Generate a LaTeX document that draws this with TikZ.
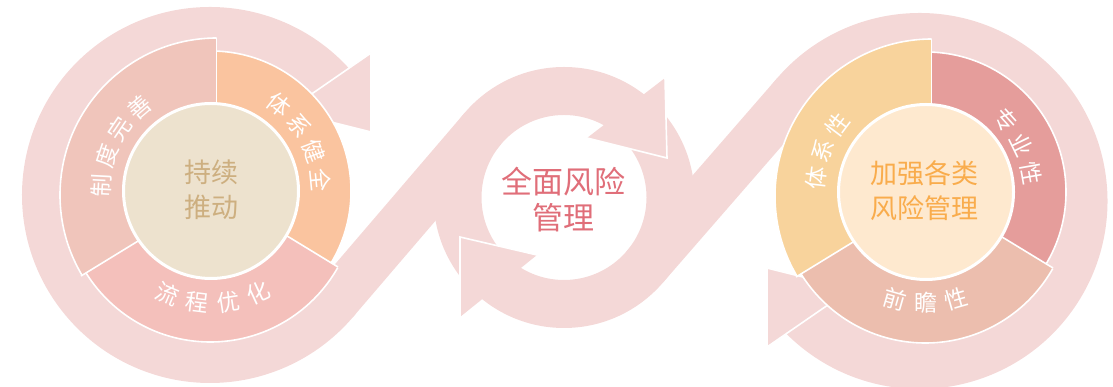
\documentclass[tikz,border=0pt]{standalone}
\usepackage{fontspec}
\setmainfont{Noto Sans CJK SC}
\usetikzlibrary{calc}
\definecolor{band}{HTML}{F4D8D7}
\definecolor{segA}{HTML}{F0C5BB}
\definecolor{segB}{HTML}{FAC49F}
\definecolor{segC}{HTML}{F4C0BB}
\definecolor{coreA}{HTML}{EDE2CE}
\definecolor{coreAtxt}{HTML}{CDAF80}
\definecolor{segD}{HTML}{F8D39C}
\definecolor{segE}{HTML}{E59D9B}
\definecolor{segF}{HTML}{ECBEAE}
\definecolor{coreB}{HTML}{FEE9CF}
\definecolor{coreBtxt}{HTML}{F9AC4C}
\definecolor{midtxt}{HTML}{E06E79}
\begin{document}
\begin{tikzpicture}[x=1pt,y=1pt,
  whiteedge/.style={draw=white, line width=1.6pt},
  segtxt/.style={text=white, font=\fontsize{23}{23}\selectfont, inner sep=0pt},
  coretxt/.style={align=center, inner sep=0pt, font=\fontsize{27}{35}\selectfont},
  midlabel/.style={align=center, inner sep=0pt, text=midtxt, font=\fontsize{31}{36}\selectfont}]
\useasboundingbox (0,0) rectangle (1113,387);

% centres
\coordinate (B1) at (210,192);
\coordinate (B2) at (919.5,186);
\coordinate (M) at (564,189.5);
\coordinate (C1) at (211,196);
\coordinate (C2) at (926,195);

% ---------- background S band ----------
\fill[band] ($(B1)+(38:188)$) arc[start angle=38,end angle=321,radius=188]
  -- ($(B1)+(321:140)$) arc[start angle=321,end angle=38,radius=140] -- cycle;
\fill[band] ($(B1)+(-40.6:188)$) -- ($(M)+(139.4:82.5)$) -- ($(M)+(139.4:130.5)$) -- ($(B1)+(-40.6:140)$) -- cycle;
\fill[band, even odd rule] (M) circle[radius=130.5] (M) circle[radius=82.5];
\fill[band] ($(M)+(-41:130.5)$) -- ($(B2)+(139:140)$) -- ($(B2)+(139:188)$) -- ($(M)+(-41:82.5)$) -- cycle;
\fill[band] ($(B2)+(143:188)$) arc[start angle=143,end angle=-142,radius=188]
  -- ($(B2)+(-142:140)$) arc[start angle=-142,end angle=143,radius=140] -- cycle;

% middle arrowheads
\fill[band] (587,249) -- (665,309) -- (667,229) -- cycle;
\draw[whiteedge] (665,309) -- (667,229) -- (587,249);
\fill[band] (537,132) -- (460,70) -- (460,150) -- cycle;
\draw[whiteedge] (460,70) -- (460,150) -- (537,132);

% end arrowheads
\filldraw[fill=band, whiteedge] (371,334) -- (371,255) -- (287,276) -- cycle;
\filldraw[fill=band, whiteedge] (767,40) -- (767,119) -- (851,98) -- cycle;

% ---------- left cycle ----------
\coordinate (P1) at (216.5,194);
\begin{scope}
  \clip (P1) -- ($(P1)+(90:330)$) arc[start angle=90,end angle=211.4,radius=330] -- cycle;
  \filldraw[fill=segA, whiteedge] (217,192) circle[radius=157];
\end{scope}
\begin{scope}
  \clip (P1) -- ($(P1)+(-31.6:330)$) arc[start angle=-31.6,end angle=90,radius=330] -- cycle;
  \filldraw[fill=segB, whiteedge] (C1) circle[radius=140];
\end{scope}
\begin{scope}
  \clip (P1) -- ($(P1)+(211.4:330)$) arc[start angle=211.4,end angle=328.4,radius=330] -- cycle;
  \filldraw[fill=segC, whiteedge] (210.3,191.3) circle[radius=146.3];
\end{scope}
\draw[whiteedge] (P1) -- (216.5,349);
\draw[whiteedge] (P1) -- (81,111);
\draw[whiteedge] (P1) -- (338,120);
\filldraw[fill=coreA, draw=white, line width=3pt] (C1) circle[radius=87.5];

% ---------- right cycle ----------
\coordinate (P2) at (931.5,193);
\begin{scope}
  \clip (P2) -- ($(P2)+(90:330)$) arc[start angle=90,end angle=211.4,radius=330] -- cycle;
  \filldraw[fill=segD, whiteedge] (932,191) circle[radius=157];
\end{scope}
\begin{scope}
  \clip (P2) -- ($(P2)+(-31.6:330)$) arc[start angle=-31.6,end angle=90,radius=330] -- cycle;
  \filldraw[fill=segE, whiteedge] (C2) circle[radius=140];
\end{scope}
\begin{scope}
  \clip (P2) -- ($(P2)+(211.4:330)$) arc[start angle=211.4,end angle=328.4,radius=330] -- cycle;
  \filldraw[fill=segF, whiteedge] (925.3,190.3) circle[radius=146.3];
\end{scope}
\draw[whiteedge] (P2) -- (931.5,348);
\draw[whiteedge] (P2) -- (796,110);
\draw[whiteedge] (P2) -- (1053,119);
\filldraw[fill=coreB, draw=white, line width=3pt] (C2) circle[radius=87.5];

% ---------- texts ----------
\foreach \ch/\a [count=\i] in {制/177,度/161.5,完/146,善/130.5}
  \node[segtxt, rotate=\a-90] (zd\i) at ($(C1)+(\a:110)$) {\ch};
\foreach \ch/\a [count=\i] in {体/52,系/36.5,健/21,全/5.5}
  \node[segtxt, rotate=\a-90] (tx\i) at ($(C1)+(\a:110)$) {\ch};
\foreach \ch/\a [count=\i] in {流/247,程/263,优/279,化/295}
  \node[segtxt, rotate=\a+90] (lc\i) at ($(C1)+(\a:112)$) {\ch};
\node[coretxt, text=coreAtxt] (core1) at (211,197.5) {持续\\推动};

\foreach \ch/\a [count=\i] in {体/173,系/158,性/143}
  \node[segtxt, rotate=\a-90] (txx\i) at ($(C2)+(\a:111)$) {\ch};
\foreach \ch/\a [count=\i] in {专/42,业/26,性/10}
  \node[segtxt, rotate=\a-90] (zy\i) at ($(C2)+(\a:107)$) {\ch};
\foreach \ch/\a [count=\i] in {前/254,瞻/270,性/286}
  \node[segtxt, rotate=\a+90] (qz\i) at ($(C2)+(\a:111)$) {\ch};
\node[coretxt, text=coreBtxt] (core2) at (924.5,196.5) {加强各类\\风险管理};

\node[midlabel] (mid) at (563.5,187) {全面风险\\管理};
\end{tikzpicture}
\end{document}
